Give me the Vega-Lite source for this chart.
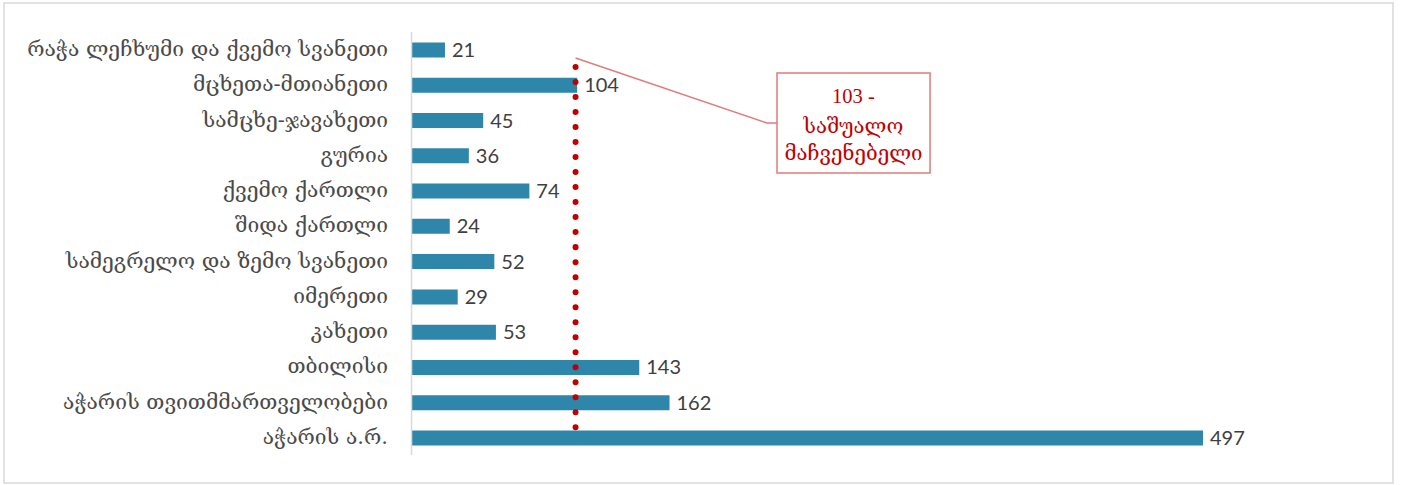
{
  "$schema": "https://vega.github.io/schema/vega-lite/v6.json",
  "width": 1389,
  "height": 480,
  "autosize": {"type": "none"},
  "padding": {"left": 4, "top": 3, "right": 8, "bottom": 2},
  "background": "white",
  "config": {"view": {"stroke": "#d9d9d9", "strokeWidth": 1.5}},
  "datasets": {
    "regions": [
      {"region": "რაჭა ლეჩხუმი და ქვემო სვანეთი", "value": 21},
      {"region": "მცხეთა-მთიანეთი", "value": 104},
      {"region": "სამცხე-ჯავახეთი", "value": 45},
      {"region": "გურია", "value": 36},
      {"region": "ქვემო ქართლი", "value": 74},
      {"region": "შიდა ქართლი", "value": 24},
      {"region": "სამეგრელო და ზემო  სვანეთი", "value": 52},
      {"region": "იმერეთი", "value": 29},
      {"region": "კახეთი", "value": 53},
      {"region": "თბილისი", "value": 143},
      {"region": "აჭარის თვითმმართველობები", "value": 162},
      {"region": "აჭარის ა.რ.", "value": 497}
    ],
    "axisline": [{"x": 0, "y": -0.51, "y2": 11.48}],
    "avg": [{"x": 103, "y": 0.482, "y2": 11.11}],
    "leader": [
      {"order": 1, "x": 103, "y": 0.227},
      {"order": 2, "x": 223.2, "y": 2.07},
      {"order": 3, "x": 229.5, "y": 2.07}
    ],
    "box": [{"x": 229.5, "x2": 325.6, "y": 0.652, "y2": 3.487}],
    "boxtext": [
      {"x": 277.5, "y": 1.333, "t": "103 -"},
      {"x": 277.5, "y": 2.183, "t": "საშუალო"},
      {"x": 277.5, "y": 2.949, "t": "მაჩვენებელი"}
    ]
  },
  "layer": [
    {
      "data": {"name": "regions"},
      "encoding": {
        "y": {
          "field": "region",
          "type": "nominal",
          "sort": null,
          "scale": {"paddingInner": 0, "paddingOuter": 0.8045, "align": 0.5174},
          "axis": {
            "title": null,
            "offset": -407.5,
            "domain": false,
            "ticks": false,
            "labelPadding": 24,
            "labelFontSize": 21,
            "labelFont": "DejaVu Serif",
            "labelColor": "#4a4a4a",
            "labelLimit": 0
          }
        },
        "x": {
          "field": "value",
          "type": "quantitative",
          "scale": {"domain": [-255.9, 616.3], "nice": false, "zero": false},
          "axis": null
        }
      },
      "layer": [
        {"mark": {"type": "bar", "size": 15, "color": "#2e87aa"}},
        {
          "mark": {"type": "text", "align": "left", "baseline": "middle", "dx": 7, "dy": 1, "font": "Lato", "fontSize": 20, "color": "#404040"},
          "encoding": {"text": {"field": "value", "type": "quantitative"}}
        }
      ]
    },
    {
      "encoding": {
        "y": {"type": "quantitative", "scale": {"domain": [-1.3326, 12.277], "reverse": true, "nice": false, "zero": false}, "axis": null},
        "x": {"type": "quantitative", "scale": {"domain": [-255.9, 616.3], "nice": false, "zero": false}, "axis": null}
      },
      "layer": [
        {
          "data": {"name": "axisline"},
          "mark": {"type": "rule", "color": "#d9d9d9", "strokeWidth": 1.5},
          "encoding": {"x": {"field": "x", "type": "quantitative"}, "y": {"field": "y", "type": "quantitative"}, "y2": {"field": "y2"}}
        },
        {
          "data": {"name": "avg"},
          "mark": {"type": "rule", "color": "#c00000", "strokeWidth": 6, "strokeCap": "round", "strokeDash": [0.01, 15]},
          "encoding": {"x": {"field": "x", "type": "quantitative"}, "y": {"field": "y", "type": "quantitative"}, "y2": {"field": "y2"}}
        },
        {
          "data": {"name": "leader"},
          "mark": {"type": "line", "color": "#e07b7b", "strokeWidth": 1.5},
          "encoding": {"x": {"field": "x", "type": "quantitative"}, "y": {"field": "y", "type": "quantitative"}, "order": {"field": "order"}}
        },
        {
          "data": {"name": "box"},
          "mark": {"type": "rect", "fill": "white", "stroke": "#e07b7b", "strokeWidth": 1.5},
          "encoding": {"x": {"field": "x", "type": "quantitative"}, "x2": {"field": "x2"}, "y": {"field": "y", "type": "quantitative"}, "y2": {"field": "y2"}}
        },
        {
          "data": {"name": "boxtext"},
          "mark": {"type": "text", "align": "center", "baseline": "middle", "font": "Liberation Serif, DejaVu Serif", "fontSize": 20.5, "color": "#c00000"},
          "encoding": {"x": {"field": "x", "type": "quantitative"}, "y": {"field": "y", "type": "quantitative"}, "text": {"field": "t"}}
        }
      ]
    }
  ],
  "resolve": {"scale": {"y": "independent"}}
}
